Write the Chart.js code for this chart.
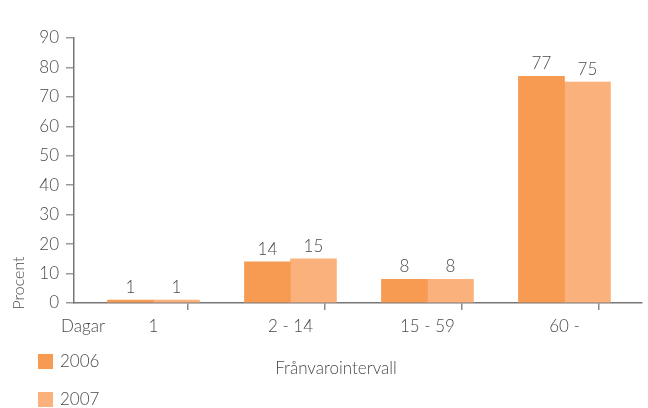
<!DOCTYPE html>
<html>
<head>
<meta charset="utf-8">
<script src="https://cdn.jsdelivr.net/npm/chart.js@4/dist/chart.umd.min.js"></script>
<style>
html, body { margin: 0; padding: 0; background: #fff; }
#wrap { width: 648px; height: 408px; position: relative; }
</style>
</head>
<body>
<div id="wrap"><canvas id="myChart"></canvas></div>
<script>
// chart data
var categories = ['1', '2 - 14', '15 - 59', '60 -'];
var values2006 = [1, 14, 8, 77];
var values2007 = [1, 15, 8, 75];
var seriesNames = ['2006', '2007'];
var yTicks = [0, 10, 20, 30, 40, 50, 60, 70, 80, 90];
var xAxisTitle = 'Frånvarointervall';
var yAxisTitle = 'Procent';
var unitLabel = 'Dagar';

var fontFamily = "Lato, 'DejaVu Sans', sans-serif";
var textColor = '#4a4a4a';
var tickFont = { family: fontFamily, size: 17, weight: '300' };

function fontString(size) {
    return '300 ' + size + 'px ' + fontFamily;
}

// ticks on the x axis: one at the left edge, category centres and the boundaries between them
function xTickValues(scale) {
    var list = [{ value: scale.min }];
    for (var i = 0; i < categories.length; i++) {
        list.push({ value: i });
        if (i < categories.length - 1) list.push({ value: i + 0.5 });
    }
    return list;
}

// numbers above the bars, legend and axis texts
var textPlugin = {
    id: 'texts',
    afterDatasetsDraw: function (chart) {
        var ctx = chart.ctx;
        ctx.save();
        ctx.fillStyle = textColor;
        ctx.font = fontString(17);
        ctx.textAlign = 'center';
        ctx.textBaseline = 'bottom';
        chart.data.datasets.forEach(function (ds, di) {
            var meta = chart.getDatasetMeta(di);
            meta.data.forEach(function (bar, i) {
                ctx.fillText(String(ds.data[i]), bar.x, bar.y - 4);
            });
        });
        ctx.restore();
    },
    afterDraw: function (chart) {
        var ctx = chart.ctx;
        var area = chart.chartArea;
        ctx.save();
        ctx.fillStyle = textColor;
        ctx.font = fontString(17);
        ctx.textBaseline = 'middle';

        ctx.textAlign = 'center';
        ctx.fillText(unitLabel, area.left + 9, area.bottom + 24);
        ctx.fillText(xAxisTitle, 336, area.bottom + 66);

        // legend
        chart.data.datasets.forEach(function (ds, di) {
            var y = 354 + di * 38;
            ctx.fillStyle = ds.backgroundColor;
            ctx.fillRect(38, y, 15, 15);
            ctx.fillStyle = textColor;
            ctx.textAlign = 'left';
            ctx.fillText(ds.label, 60, y + 8);
        });

        // y title
        ctx.translate(19, 283);
        ctx.rotate(-Math.PI / 2);
        ctx.textAlign = 'center';
        ctx.font = fontString(16);
        ctx.fillText(yAxisTitle, 0, 0);
        ctx.restore();
    }
};

var ctx = document.getElementById('myChart');
var myChart = new Chart(ctx, {
    type: 'bar',
    data: {
        labels: categories.map(function (c, i) { return i; }),
        datasets: [{
            label: seriesNames[0],
            data: values2006,
            backgroundColor: '#F79A52',
            borderWidth: 0,
            barThickness: 46
        }, {
            label: seriesNames[1],
            data: values2007,
            backgroundColor: '#FBB17B',
            borderWidth: 0,
            barThickness: 46
        }]
    },
    options: {
        responsive: true,
        maintainAspectRatio: false,
        animation: false,
        layout: { padding: { top: 38, right: 6, left: 0, bottom: 0 } },
        plugins: {
            legend: { display: false },
            tooltip: { enabled: false }
        },
        scales: {
            x: {
                type: 'linear',
                min: -0.58,
                max: 3.566,
                offset: false,
                afterBuildTicks: function (scale) {
                    scale.ticks = xTickValues(scale);
                },
                afterFit: function (scale) {
                    scale.height = 105;
                },
                grid: {
                    drawOnChartArea: false,
                    tickLength: 7,
                    lineWidth: 1.5,
                    color: function (c) {
                        return c.tick && Number.isInteger(c.tick.value) ? 'rgba(0,0,0,0)' : '#8a8a8a';
                    }
                },
                border: { color: '#777', width: 1.5 },
                ticks: {
                    autoSkip: false,
                    maxRotation: 0,
                    padding: 6,
                    color: textColor,
                    font: tickFont,
                    callback: function (v) {
                        return Number.isInteger(v) && v >= 0 ? categories[v] : '';
                    }
                }
            },
            y: {
                min: 0,
                max: 90,
                afterBuildTicks: function (scale) {
                    scale.ticks = yTicks.map(function (v) { return { value: v }; });
                },
                afterFit: function (scale) {
                    scale.width = 74;
                },
                grid: {
                    drawOnChartArea: false,
                    tickLength: 8,
                    lineWidth: 1.5,
                    color: '#9a9a9a'
                },
                border: { color: '#777', width: 1.5 },
                ticks: {
                    padding: 7,
                    color: textColor,
                    font: tickFont
                }
            }
        }
    },
    plugins: [textPlugin]
});
</script>
</body>
</html>
